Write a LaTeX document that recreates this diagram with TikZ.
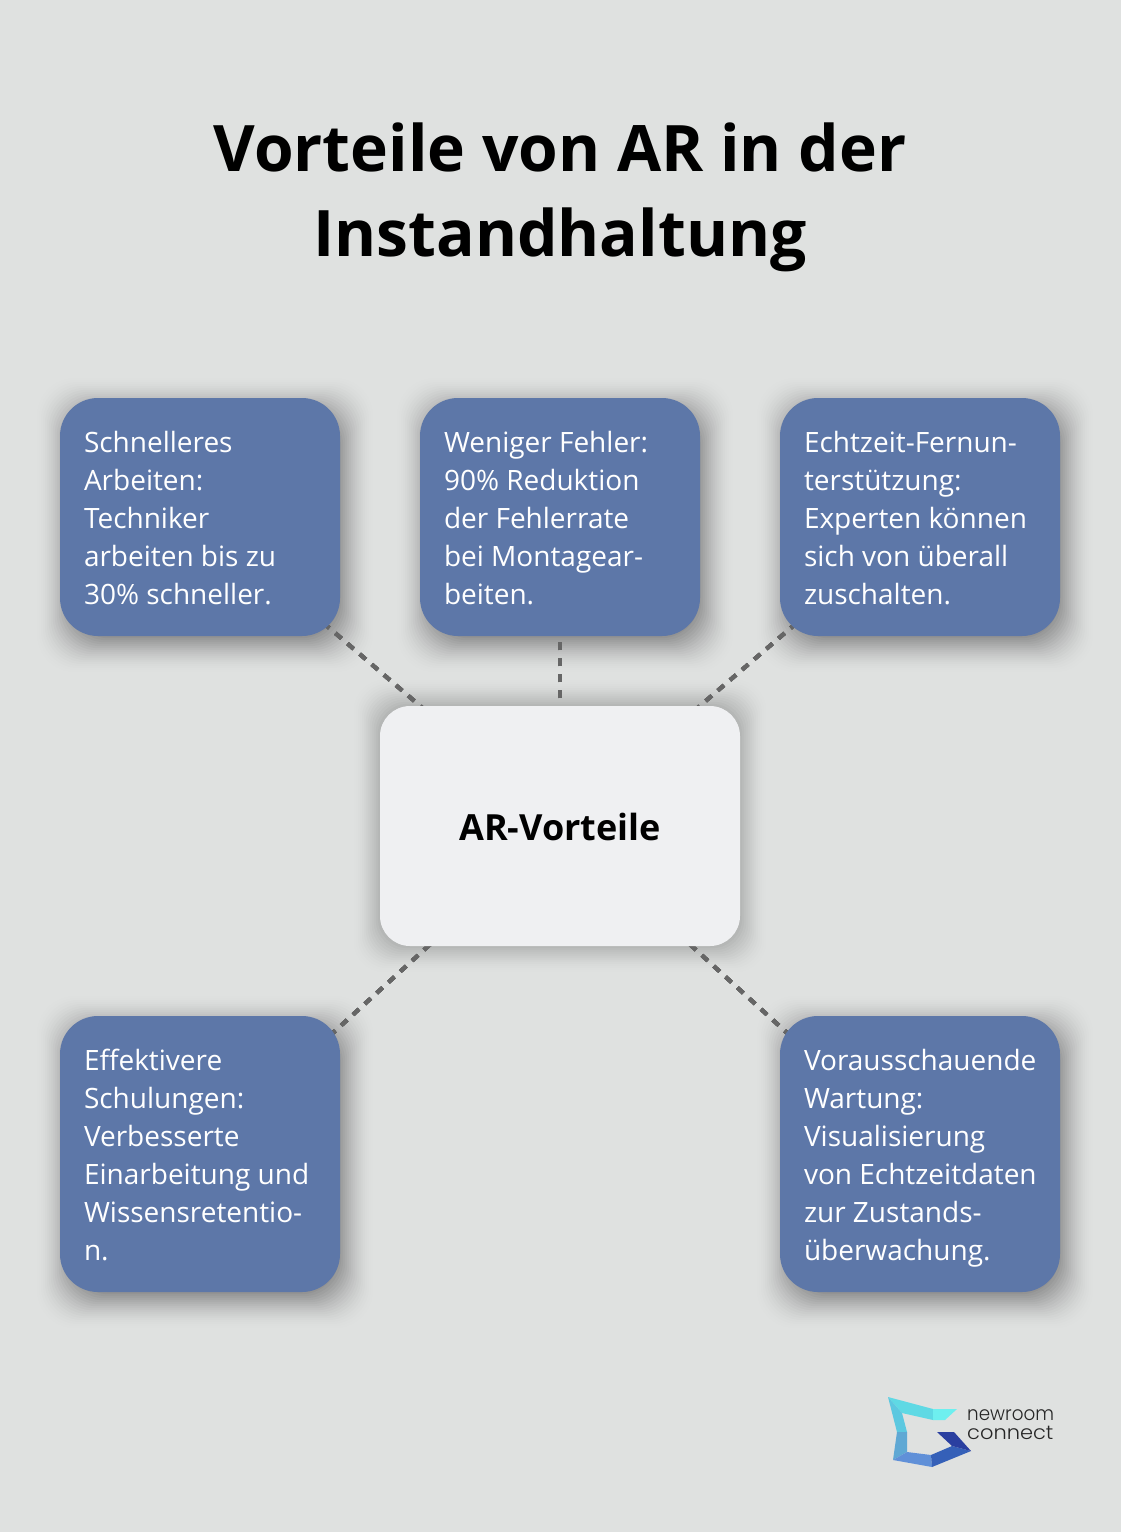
\documentclass[tikz,border=0pt]{standalone}
\usepackage{fontspec}
\setmainfont{Open Sans}
\newfontfamily\logofont{Poppins Light}
\usetikzlibrary{backgrounds}
\definecolor{pagegrey}{HTML}{DFE1E0}
\definecolor{boxblue}{HTML}{5D77A8}
\definecolor{hubgrey}{HTML}{EFF0F2}
\definecolor{linkgrey}{HTML}{666666}
\definecolor{logoa}{HTML}{5FD9E4}
\definecolor{logob}{HTML}{6EEFEF}
\definecolor{logoc}{HTML}{5CC8E0}
\definecolor{logod}{HTML}{5FA8D4}
\definecolor{logoe}{HTML}{6090D8}
\definecolor{logof}{HTML}{3560B8}
\definecolor{logog}{HTML}{2A3FA0}
\tikzset{
    infobox/.style={fill=boxblue,text=white,rounded corners=38pt,minimum width=280pt,inner xsep=24pt,inner ysep=0pt,text width=232pt,align=left,font=\fontsize{28}{38}\selectfont,execute at begin node={\spaceskip=0.26em\rightskip=-8pt plus 1fil\rule{0pt}{34.6pt}},execute at end node=\strut},
    hubbox/.style={fill=hubgrey,rounded corners=30pt,minimum width=360pt,minimum height=240pt,font=\fontsize{36}{44}\selectfont\bfseries},
    linkline/.style={draw=linkgrey,line width=4pt,dash pattern=on 8pt off 8pt},
    logotext/.style={anchor=base west,inner sep=0pt,text=black!85,font=\fontsize{19.5}{20}\logofont}
}
\newcommand{\boxshadow}[5]{%
    \foreach \g in {0,2,...,40}
        \fill [black,opacity={#4*(\g+2)/462},rounded corners=#5] ([shift={(-28pt+#2 pt+\g pt,-28pt+#3 pt+\g pt)}]#1.south west) rectangle ([shift={(28pt+#2 pt-\g pt,28pt+#3 pt-\g pt)}]#1.north east);
}
\begin{document}
\begin{tikzpicture}[x=1pt,y=-1pt]
    \useasboundingbox (0,0) rectangle (1120,1532);
    \node [align=center,font=\fontsize{64.1}{85}\selectfont\bfseries] (title) at (560,197) {Vorteile von AR in der\\Instandhaltung};
    \node [hubbox] (hub) at (560,826) {\raisebox{-1pt}[\height][\depth]{AR-Vorteile}};
    \node [infobox,minimum height=238pt] (fast) at (200,517) {Schnelleres\\Arbeiten:\\Techniker\\arbeiten bis zu\\30\% schneller.};
    \node [infobox,minimum height=238pt] (errors) at (560,517) {Weniger Fehler:\\90\% Reduktion\\der Fehlerrate\\bei Montagear-\\beiten.};
    \node [infobox,minimum height=238pt] (remote) at (920,517) {Echtzeit-Fernun-\\terstützung:\\Experten können\\sich von überall\\zuschalten.};
    \node [infobox,minimum height=276pt] (training) at (200,1154) {Effektivere\\Schulungen:\\Verbesserte\\Einarbeitung und\\Wissensretentio-\\n.};
    \node [infobox,minimum height=276pt] (service) at (920,1154) {Vorausschauende\\Wartung:\\Visualisierung\\von Echtzeitdaten\\zur Zustands-\\überwachung.};
    \begin{pgfonlayer}{background}
        \fill [pagegrey] (-5,-5) rectangle (1125,1537);
        \boxshadow{hub}{0}{0}{0.4}{30pt}
        \foreach \n in {fast,errors,remote,training,service}
            \boxshadow{\n}{5}{-8}{0.5}{38pt}
        \foreach \n in {fast,errors,remote,training,service}
            \draw [linkline] (hub.center) -- (\n.center);
    \end{pgfonlayer}
    \fill [logoa] (888,1397) -- (933,1409) -- (933,1420) -- (902,1413) -- cycle;
    \fill [logob] (933,1409) -- (957,1409) -- (945,1420) -- (933,1420) -- cycle;
    \fill [logoc] (888,1397) -- (902,1413) -- (907,1432) -- (897,1432) -- cycle;
    \fill [logod] (897,1432) -- (907,1432) -- (907,1452) -- (893,1460) -- cycle;
    \fill [logoe] (893,1460) -- (907,1452) -- (931,1455) -- (932,1467) -- cycle;
    \fill [logof] (931,1455) -- (952,1446) -- (971,1451) -- (932,1467) -- cycle;
    \fill [logog] (937,1432) -- (954,1432) -- (971,1451) -- (952,1446) -- cycle;
    \node [logotext,xscale=0.94] (newroom) at (967,1420) {newroom};
    \node [logotext,xscale=1.075] (connect) at (967,1439) {connect};
\end{tikzpicture}
\end{document}
